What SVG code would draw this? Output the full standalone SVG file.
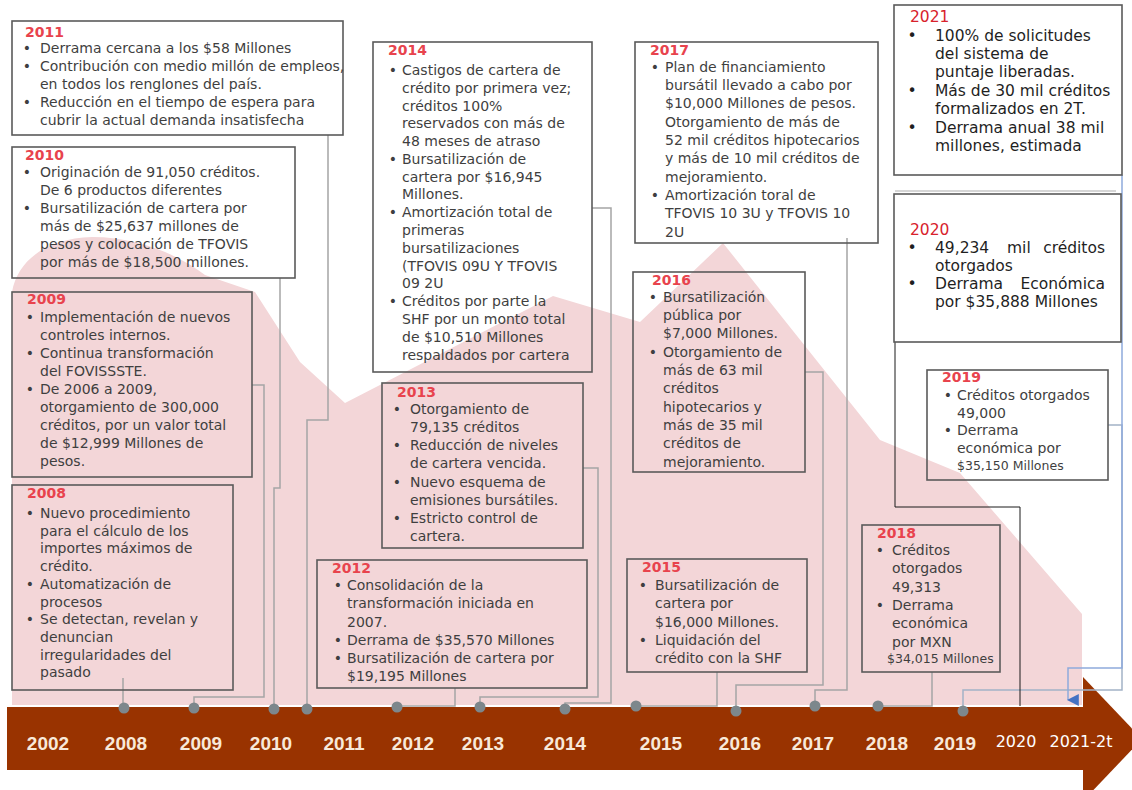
<svg xmlns="http://www.w3.org/2000/svg" width="1132" height="790" viewBox="0 0 1132 790">
<defs>
<style>
.box{fill:none;stroke:#5a5a5a;stroke-width:1.6}
.t{font-family:"DejaVu Sans",Verdana,sans-serif;font-size:14px;fill:#3f3f3f}
.s{font-size:12.5px}
.b{font-family:"DejaVu Sans",Verdana,sans-serif;font-size:14px;fill:#3f3f3f;text-anchor:middle}
.yr{font-family:"DejaVu Sans",Verdana,sans-serif;font-size:14px;font-weight:bold;fill:#e8434d}
.t2{font-family:"DejaVu Sans",Verdana,sans-serif;font-size:15.5px;fill:#1f1f1f}
.b2{font-family:"DejaVu Sans",Verdana,sans-serif;font-size:15.5px;fill:#1f1f1f;text-anchor:middle}
.yr2{font-family:"DejaVu Sans",Verdana,sans-serif;font-size:15.5px;fill:#d8222c}
.conn{fill:none;stroke:#a5a5a5;stroke-width:1.5}
.dot{fill:#7d878c}
.by{font-family:"Liberation Sans",Arial,sans-serif;font-size:19px;font-weight:bold;fill:#f8e9d9;text-anchor:middle}
.by2{font-family:"DejaVu Sans",Verdana,sans-serif;font-size:16px;fill:#ffffff;text-anchor:middle}
</style>
<marker id="arr" viewBox="0 0 10 10" refX="5" refY="9" markerWidth="12" markerHeight="12" markerUnits="userSpaceOnUse" orient="auto-start-reverse">
<path d="M0,0 L10,0 L5,10 Z" fill="#4472c4"/>
</marker>
</defs>
<rect width="1132" height="790" fill="#ffffff"/>
<path id="background" d="M12,705 L12,292 C18,258 50,238 92,237 C140,237 180,256 205,275 L255,292 L300,362 L345,403 L553,296 L640,322 L723,243 L880,440 L960,473 L1082,614 L1082,705 Z" fill="#f3d6d8"/>
<g id="timeline">
<rect x="7" y="707" width="1080" height="63" fill="#993300"/>
<polygon points="1083,677 1142,739 1083,801" fill="#993300"/>
<text class="by" x="48" y="750">2002</text>
<text class="by" x="126" y="750">2008</text>
<text class="by" x="201" y="750">2009</text>
<text class="by" x="271" y="750">2010</text>
<text class="by" x="344" y="750">2011</text>
<text class="by" x="413" y="750">2012</text>
<text class="by" x="483" y="750">2013</text>
<text class="by" x="565" y="750">2014</text>
<text class="by" x="661" y="750">2015</text>
<text class="by" x="740" y="750">2016</text>
<text class="by" x="813" y="750">2017</text>
<text class="by" x="887" y="750">2018</text>
<text class="by" x="955" y="750">2019</text>
<text class="by2" x="1016" y="747">2020</text>
<text class="by2" x="1081" y="747">2021-2t</text>
</g>
<g id="connectors">
<path class="conn" d="M123,678 V708"/>
<path class="conn" d="M252,385 H264 V697 H194 V708"/>
<path class="conn" d="M280,278 V488 H274 V709"/>
<path class="conn" d="M328,135 V420 H307 V709"/>
<path class="conn" d="M455,688 V706 H397"/>
<path class="conn" d="M583,468 H598 V697 H480 V707"/>
<path class="conn" d="M592,208 H611 V703 H565 V709"/>
<path class="conn" d="M717,672 V706 H636"/>
<path class="conn" d="M805,372 H823 V685 H736 V711"/>
<path class="conn" d="M847,238 V690 H815 V706"/>
<path class="conn" d="M932,672 V706 H878"/>
<path fill="none" stroke="#a3b2c6" stroke-width="1.5" d="M1108,425 H1122 V690 H963 V711"/>
<path fill="none" stroke="#1a1a1a" stroke-width="1" d="M895,342 V507 H1020 V706"/>
<path fill="none" stroke="#8eaadb" stroke-width="1.5" d="M1122,175 V668 H1068 V700" marker-end="url(#arr)"/>
<circle class="dot" cx="124" cy="708" r="5.5"/>
<circle class="dot" cx="194" cy="708" r="5.5"/>
<circle class="dot" cx="274" cy="709" r="5.5"/>
<circle class="dot" cx="307" cy="709" r="5.5"/>
<circle class="dot" cx="397" cy="707" r="5.5"/>
<circle class="dot" cx="480" cy="707" r="5.5"/>
<circle class="dot" cx="565" cy="709" r="5.5"/>
<circle class="dot" cx="636" cy="706" r="5.5"/>
<circle class="dot" cx="736" cy="711" r="5.5"/>
<circle class="dot" cx="815" cy="706" r="5.5"/>
<circle class="dot" cx="878" cy="706" r="5.5"/>
<circle class="dot" cx="963" cy="711" r="5.5"/>
</g>
<g id="n2011">
<rect class="box" x="12" y="21" width="331" height="114"/>
<text class="yr" x="25" y="37">2011</text>
<text class="b" x="27" y="53">•</text><text class="t" x="40" y="53">Derrama cercana a los $58 Millones</text>
<text class="b" x="27" y="71">•</text><text class="t" x="40" y="71">Contribución con medio millón de empleos,</text>
<text class="t" x="40" y="89">en todos los renglones del país.</text>
<text class="b" x="27" y="107">•</text><text class="t" x="40" y="107">Reducción en el tiempo de espera para</text>
<text class="t" x="40" y="125">cubrir la actual demanda insatisfecha</text>
</g>
<g id="n2010">
<rect class="box" x="12" y="147" width="283" height="131"/>
<text class="yr" x="25" y="160">2010</text>
<text class="b" x="27" y="177">•</text><text class="t" x="40" y="177">Originación de 91,050 créditos.</text>
<text class="t" x="40" y="195">De 6 productos diferentes</text>
<text class="b" x="27" y="213">•</text><text class="t" x="40" y="213">Bursatilización de cartera por</text>
<text class="t" x="40" y="231">más de $25,637 millones de</text>
<text class="t" x="40" y="249">pesos y colocación de TFOVIS</text>
<text class="t" x="40" y="267">por más de $18,500 millones.</text>
</g>
<g id="n2009">
<rect class="box" x="12" y="292" width="240" height="185"/>
<text class="yr" x="27" y="304">2009</text>
<text class="b" x="30" y="322">•</text><text class="t" x="40" y="322">Implementación de nuevos</text>
<text class="t" x="40" y="340">controles internos.</text>
<text class="b" x="30" y="358">•</text><text class="t" x="40" y="358">Continua transformación</text>
<text class="t" x="40" y="376">del FOVISSSTE.</text>
<text class="b" x="30" y="394">•</text><text class="t" x="40" y="394">De 2006 a 2009,</text>
<text class="t" x="40" y="412">otorgamiento de 300,000</text>
<text class="t" x="40" y="430">créditos, por un valor total</text>
<text class="t" x="40" y="448">de $12,999 Millones de</text>
<text class="t" x="40" y="466">pesos.</text>
</g>
<g id="n2008">
<rect class="box" x="12" y="485" width="221" height="205"/>
<text class="yr" x="27" y="498">2008</text>
<text class="b" x="30" y="518">•</text><text class="t" x="40" y="518">Nuevo procedimiento</text>
<text class="t" x="40" y="536">para el cálculo de los</text>
<text class="t" x="40" y="553">importes máximos de</text>
<text class="t" x="40" y="571">crédito.</text>
<text class="b" x="30" y="589">•</text><text class="t" x="40" y="589">Automatización de</text>
<text class="t" x="40" y="607">procesos</text>
<text class="b" x="30" y="624">•</text><text class="t" x="40" y="624">Se detectan, revelan y</text>
<text class="t" x="40" y="642">denuncian</text>
<text class="t" x="40" y="660">irregularidades del</text>
<text class="t" x="40" y="677">pasado</text>
</g>
<g id="n2014">
<rect class="box" x="373" y="42" width="219" height="330"/>
<text class="yr" x="388" y="55">2014</text>
<text class="b" x="393" y="75">•</text><text class="t" x="402" y="75">Castigos de cartera de</text>
<text class="t" x="402" y="93">crédito por primera vez;</text>
<text class="t" x="402" y="111">créditos 100%</text>
<text class="t" x="402" y="128">reservados con más de</text>
<text class="t" x="402" y="146">48 meses de atraso</text>
<text class="b" x="393" y="164">•</text><text class="t" x="402" y="164">Bursatilización de</text>
<text class="t" x="402" y="182">cartera por $16,945</text>
<text class="t" x="402" y="199">Millones.</text>
<text class="b" x="393" y="217">•</text><text class="t" x="402" y="217">Amortización total de</text>
<text class="t" x="402" y="235">primeras</text>
<text class="t" x="402" y="253">bursatilizaciones</text>
<text class="t" x="402" y="271">(TFOVIS 09U Y TFOVIS</text>
<text class="t" x="402" y="288">09 2U</text>
<text class="b" x="393" y="306">•</text><text class="t" x="402" y="306">Créditos por parte la</text>
<text class="t" x="402" y="324">SHF por un monto total</text>
<text class="t" x="402" y="342">de $10,510 Millones</text>
<text class="t" x="402" y="360">respaldados por cartera</text>
</g>
<g id="n2013">
<rect class="box" x="382" y="383" width="201" height="165"/>
<text class="yr" x="397" y="397">2013</text>
<text class="b" x="397" y="414">•</text><text class="t" x="410" y="414">Otorgamiento de</text>
<text class="t" x="410" y="432">79,135 créditos</text>
<text class="b" x="397" y="450">•</text><text class="t" x="410" y="450">Reducción de niveles</text>
<text class="t" x="410" y="468">de cartera vencida.</text>
<text class="b" x="397" y="487">•</text><text class="t" x="410" y="487">Nuevo esquema de</text>
<text class="t" x="410" y="505">emisiones bursátiles.</text>
<text class="b" x="397" y="523">•</text><text class="t" x="410" y="523">Estricto control de</text>
<text class="t" x="410" y="541">cartera.</text>
</g>
<g id="n2012">
<rect class="box" x="317" y="560" width="270" height="128"/>
<text class="yr" x="332" y="573">2012</text>
<text class="b" x="338" y="590">•</text><text class="t" x="347" y="590">Consolidación de la</text>
<text class="t" x="347" y="608">transformación iniciada en</text>
<text class="t" x="347" y="627">2007.</text>
<text class="b" x="338" y="645">•</text><text class="t" x="347" y="645">Derrama de $35,570 Millones</text>
<text class="b" x="338" y="663">•</text><text class="t" x="347" y="663">Bursatilización de cartera por</text>
<text class="t" x="347" y="681">$19,195 Millones</text>
</g>
<g id="n2017">
<rect class="box" x="635" y="42" width="243" height="201"/>
<text class="yr" x="650" y="55">2017</text>
<text class="b" x="655" y="72">•</text><text class="t" x="665" y="72">Plan de financiamiento</text>
<text class="t" x="665" y="90">bursátil llevado a cabo por</text>
<text class="t" x="665" y="108">$10,000 Millones de pesos.</text>
<text class="t" x="665" y="127">Otorgamiento de más de</text>
<text class="t" x="665" y="145">52 mil créditos hipotecarios</text>
<text class="t" x="665" y="163">y más de 10 mil créditos de</text>
<text class="t" x="665" y="182">mejoramiento.</text>
<text class="b" x="655" y="200">•</text><text class="t" x="665" y="200">Amortización toral de</text>
<text class="t" x="665" y="218">TFOVIS 10 3U y TFOVIS 10</text>
<text class="t" x="665" y="237">2U</text>
</g>
<g id="n2016">
<rect class="box" x="633" y="272" width="172" height="200"/>
<text class="yr" x="652" y="285">2016</text>
<text class="b" x="653" y="302">•</text><text class="t" x="663" y="302">Bursatilización</text>
<text class="t" x="663" y="320">pública por</text>
<text class="t" x="663" y="338">$7,000 Millones.</text>
<text class="b" x="653" y="357">•</text><text class="t" x="663" y="357">Otorgamiento de</text>
<text class="t" x="663" y="375">más de 63 mil</text>
<text class="t" x="663" y="393">créditos</text>
<text class="t" x="663" y="412">hipotecarios y</text>
<text class="t" x="663" y="430">más de 35 mil</text>
<text class="t" x="663" y="448">créditos de</text>
<text class="t" x="663" y="467">mejoramiento.</text>
</g>
<g id="n2015">
<rect class="box" x="627" y="559" width="180" height="113"/>
<text class="yr" x="642" y="572">2015</text>
<text class="b" x="643" y="590">•</text><text class="t" x="655" y="590">Bursatilización de</text>
<text class="t" x="655" y="608">cartera por</text>
<text class="t" x="655" y="627">$16,000 Millones.</text>
<text class="b" x="643" y="645">•</text><text class="t" x="655" y="645">Liquidación del</text>
<text class="t" x="655" y="663">crédito con la SHF</text>
</g>
<g id="n2018">
<rect class="box" x="862" y="525" width="138" height="147"/>
<text class="yr" x="877" y="538">2018</text>
<text class="b" x="880" y="555">•</text><text class="t" x="892" y="555">Créditos</text>
<text class="t" x="892" y="573">otorgados</text>
<text class="t" x="892" y="592">49,313</text>
<text class="b" x="880" y="610">•</text><text class="t" x="892" y="610">Derrama</text>
<text class="t" x="892" y="628">económica</text>
<text class="t" x="892" y="647">por MXN</text>
<text class="t s" x="887" y="663">$34,015 Millones</text>
</g>
<g id="n2021">
<rect class="box" x="894" y="5" width="228" height="170"/>
<text class="yr2" x="910" y="22">2021</text>
<text class="b2" x="912" y="41">•</text><text class="t2" x="935" y="41">100% de solicitudes</text>
<text class="t2" x="935" y="59">del sistema de</text>
<text class="t2" x="935" y="77">puntaje liberadas.</text>
<text class="b2" x="912" y="96">•</text><text class="t2" x="935" y="96">Más de 30 mil créditos</text>
<text class="t2" x="935" y="114">formalizados en 2T.</text>
<text class="b2" x="912" y="133">•</text><text class="t2" x="935" y="133">Derrama anual 38 mil</text>
<text class="t2" x="935" y="151">millones, estimada</text>
</g>
<g id="n2020">
<line x1="895" y1="191" x2="1116" y2="191" stroke="#c8c8c8" stroke-width="1.5"/>
<rect class="box" x="894" y="194" width="227" height="148"/>
<text class="yr2" x="910" y="235">2020</text>
<text class="b2" x="912" y="253">•</text>
<text class="t2" x="935" y="253">49,234</text><text class="t2" x="1007" y="253">mil</text><text class="t2" x="1105" y="253" text-anchor="end">créditos</text>
<text class="t2" x="935" y="271">otorgados</text>
<text class="b2" x="912" y="289">•</text>
<text class="t2" x="935" y="289">Derrama</text><text class="t2" x="1105" y="289" text-anchor="end">Económica</text>
<text class="t2" x="935" y="307">por $35,888 Millones</text>
</g>
<g id="n2019">
<rect class="box" x="927" y="370" width="181" height="110"/>
<text class="yr" x="942" y="382">2019</text>
<text class="b" x="948" y="400">•</text><text class="t" x="957" y="400">Créditos otorgados</text>
<text class="t" x="957" y="418">49,000</text>
<text class="b" x="948" y="435">•</text><text class="t" x="957" y="435">Derrama</text>
<text class="t" x="957" y="453">económica por</text>
<text class="t s" x="957" y="470">$35,150 Millones</text>
</g>
</svg>
